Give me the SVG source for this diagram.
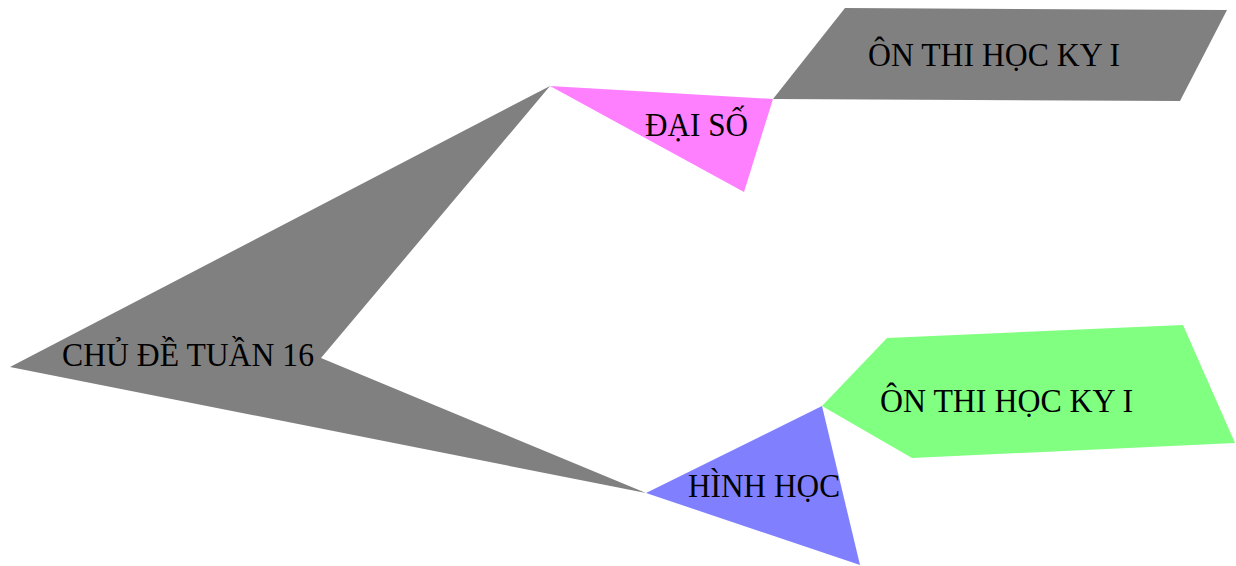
<svg xmlns="http://www.w3.org/2000/svg" width="1236" height="566" viewBox="0 0 1236 566">
  <style>
    .lbl { font-family: "Liberation Serif", "Times New Roman", serif; font-size: 33px; fill: #000; }
  </style>
  <rect width="1236" height="566" fill="#fff"/>
  <g id="connectors">
    <!-- branch shapes are drawn as part of each node -->
  </g>
  <g id="root">
    <polygon points="550,86 10,367 646,493 321,358" fill="#808080"/>
    <text class="lbl" x="62" y="366" textLength="252" lengthAdjust="spacingAndGlyphs">CHỦ ĐỀ TUẦN 16</text>
  </g>
  <g id="dai-so">
    <polygon points="550,86 773,99 744,192" fill="#ff80ff"/>
    <text class="lbl" x="645" y="136" textLength="103" lengthAdjust="spacingAndGlyphs">ĐẠI SỐ</text>
  </g>
  <g id="on-thi-1">
    <polygon points="845,8 1227,10 1180,101 773,99" fill="#808080"/>
    <text class="lbl" x="868" y="66" textLength="252" lengthAdjust="spacingAndGlyphs">ÔN THI HỌC KY I</text>
  </g>
  <g id="hinh-hoc">
    <polygon points="822,406 860,565 646,493" fill="#8080ff"/>
    <text class="lbl" x="688" y="497" textLength="152" lengthAdjust="spacingAndGlyphs">HÌNH HỌC</text>
  </g>
  <g id="on-thi-2">
    <polygon points="887,338 1183,325 1235,443 912,458 822,406" fill="#80ff80"/>
    <text class="lbl" x="880" y="412" textLength="253" lengthAdjust="spacingAndGlyphs">ÔN THI HỌC KY I</text>
  </g>
</svg>
